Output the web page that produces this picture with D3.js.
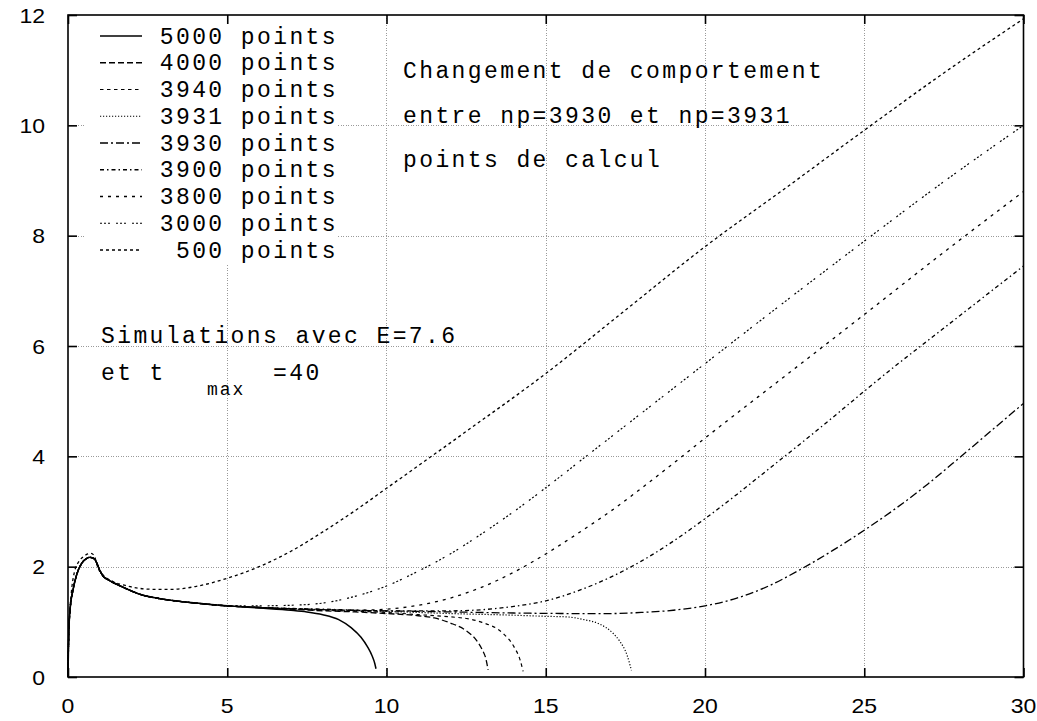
<!DOCTYPE html>
<html><head><meta charset="utf-8">
<script src="https://cdn.jsdelivr.net/npm/d3@7"></script>
<style>body{margin:0;background:#fff}svg{display:block}</style>
</head><body>
<svg id="c" width="1037" height="721"></svg>
<script>
// ---------- data ----------
const xTicks = [0, 5, 10, 15, 20, 25, 30];
const yTicks = [0, 2, 4, 6, 8, 10, 12];
const seriesLabels = ["5000 points","4000 points","3940 points","3931 points","3930 points","3900 points","3800 points","3000 points"," 500 points"];

// shared start of the simulations (np >= 3000)
const startX = [0, 0.02, 0.06, 0.17, 0.27, 0.43, 0.59, 0.69, 0.83, 0.9, 1.0, 1.1, 1.27, 1.68, 2.31, 3, 4, 5];
const startY = [0, 0.7, 1.18, 1.61, 1.85, 2.06, 2.15, 2.17, 2.14, 2.07, 1.93, 1.83, 1.76, 1.64, 1.49, 1.41, 1.34, 1.29];

const x5000 = [6, 7, 7.5, 8, 8.5, 8.9, 9.2, 9.4, 9.55, 9.63, 9.67];
const y5000 = [1.25, 1.21, 1.18, 1.13, 1.04, 0.89, 0.72, 0.55, 0.38, 0.25, 0.15];

const x4000 = [6, 7, 8, 9, 10, 11, 11.5, 12, 12.5, 12.82, 13.0, 13.12, 13.19];
const y4000 = [1.26, 1.23, 1.2, 1.18, 1.15, 1.11, 1.07, 0.98, 0.84, 0.67, 0.5, 0.33, 0.13];

const x3940 = [6, 8, 10, 11, 12, 12.51, 13, 13.66, 14.0, 14.2, 14.29];
const y3940 = [1.26, 1.21, 1.17, 1.13, 1.09, 1.06, 0.99, 0.79, 0.55, 0.3, 0.1];

const x3931 = [6, 8, 10, 12, 14, 15, 15.65, 16.2, 16.69, 17.1, 17.32, 17.55, 17.69];
const y3931 = [1.26, 1.22, 1.19, 1.15, 1.12, 1.1, 1.09, 1.04, 0.96, 0.8, 0.65, 0.4, 0.12];

const x3930 = [6, 8, 10, 12, 14, 16, 17, 18, 19, 20, 21, 22, 23, 24, 25, 26, 27, 28, 29, 30];
const y3930 = [1.26, 1.22, 1.2, 1.18, 1.16, 1.15, 1.15, 1.17, 1.21, 1.29, 1.43, 1.65, 1.95, 2.29, 2.66, 3.06, 3.5, 3.98, 4.47, 4.96];

const x3900 = [6, 8, 10, 12, 13, 14, 15, 16, 17, 18, 19, 20, 21, 22, 23, 24, 25, 26, 27, 28, 29, 30];
const y3900 = [1.26, 1.23, 1.2, 1.2, 1.22, 1.28, 1.38, 1.56, 1.8, 2.1, 2.46, 2.87, 3.31, 3.77, 4.23, 4.7, 5.18, 5.65, 6.1, 6.55, 7.0, 7.45];

const x3800 = [6, 7, 9, 10, 11, 12, 13, 14, 15, 16, 17, 18, 19, 20, 22.5, 25, 27.5, 30];
const y3800 = [1.26, 1.24, 1.21, 1.23, 1.3, 1.43, 1.63, 1.9, 2.23, 2.6, 2.99, 3.42, 3.87, 4.33, 5.45, 6.57, 7.7, 8.8];

const x3000 = [6, 7, 8, 9, 10, 11, 12, 13, 14, 15, 16, 17, 18, 20, 22.5, 25, 27.5, 30];
const y3000 = [1.29, 1.3, 1.34, 1.46, 1.65, 1.92, 2.23, 2.6, 3.0, 3.43, 3.88, 4.33, 4.78, 5.68, 6.8, 7.9, 8.98, 10.0];

const x500 = [0, 0.03, 0.1, 0.2, 0.35, 0.5, 0.62, 0.72, 0.82, 0.94, 1.1, 1.41, 1.8, 2.2, 2.7, 3.3, 4, 5, 6, 7, 8, 9, 10, 12.5, 15, 17.5, 20, 22.5, 25, 27.5, 30];
const y500 = [0, 0.9, 1.5, 1.9, 2.1, 2.19, 2.23, 2.24, 2.2, 1.98, 1.85, 1.73, 1.66, 1.61, 1.59, 1.59, 1.64, 1.79, 2.0, 2.28, 2.63, 3.01, 3.42, 4.45, 5.5, 6.65, 7.8, 8.85, 9.91, 10.95, 11.93];

const annotation1 = ["Changement de comportement", "entre np=3930 et np=3931", "points de calcul"];
const annotation2 = "Simulations avec E=7.6";

// ---------- layout ----------
const L = 68, R = 1023.5, T = 15, B = 677;
const svg = d3.select("#c");
const x = d3.scaleLinear().domain([0, 30]).range([L, R]);
const y = d3.scaleLinear().domain([0, 12]).range([B, T]);

const mono = "'Courier New','Nimbus Mono PS','FreeMono','Liberation Mono',monospace";
const sans = "'Liberation Sans',Arial,sans-serif";
const monoSize = 23, monoSpacing = 2.4;

// grid
const grid = svg.append("g").attr("stroke", "#9a9a9a").attr("stroke-width", 1).attr("stroke-dasharray", "1,1.5").attr("shape-rendering", "crispEdges");
xTicks.slice(1, -1).forEach(t => grid.append("line").attr("x1", Math.round(x(t)) + 0.5).attr("x2", Math.round(x(t)) + 0.5).attr("y1", T).attr("y2", B));
yTicks.slice(1, -1).forEach(t => grid.append("line").attr("y1", Math.round(y(t)) + 0.5).attr("y2", Math.round(y(t)) + 0.5).attr("x1", L).attr("x2", R));

// axes with inward ticks + mirrored (labels drawn separately)
const tickLen = 9;
const gx = svg.append("g").attr("transform", `translate(0,${B})`)
  .call(d3.axisBottom(x).tickValues(xTicks).tickSizeInner(-tickLen).tickSizeOuter(0).tickFormat(""));
const gxt = svg.append("g").attr("transform", `translate(0,${T})`)
  .call(d3.axisTop(x).tickValues(xTicks).tickSizeInner(-tickLen).tickSizeOuter(0).tickFormat(""));
const gy = svg.append("g").attr("transform", `translate(${L},0)`)
  .call(d3.axisLeft(y).tickValues(yTicks).tickSizeInner(-tickLen).tickSizeOuter(0).tickFormat(""));
const gyr = svg.append("g").attr("transform", `translate(${R},0)`)
  .call(d3.axisRight(y).tickValues(yTicks).tickSizeInner(-tickLen).tickSizeOuter(0).tickFormat(""));
[gx, gxt, gy, gyr].forEach(g => {
  g.select(".domain").remove();
  g.selectAll("line").attr("stroke", "#000").attr("stroke-width", 1.6);
});

// tick labels (slightly wide sans)
const labSize = 20, labStretch = 1.15;
svg.append("g").selectAll("text").data(xTicks).join("text")
  .attr("transform", d => `translate(${x(d)},713) scale(${labStretch},1)`)
  .attr("text-anchor", "middle").attr("font-family", sans).attr("font-size", labSize)
  .text(d => d);
svg.append("g").selectAll("text").data(yTicks).join("text")
  .attr("transform", d => `translate(45,${y(d) + 7.5}) scale(${labStretch},1)`)
  .attr("text-anchor", "end").attr("font-family", sans).attr("font-size", labSize)
  .text(d => d);

// frame
svg.append("rect").attr("x", L).attr("y", T).attr("width", R - L).attr("height", B - T)
  .attr("fill", "none").attr("stroke", "#000").attr("stroke-width", 1.6);

// series
const series = [
  {label: seriesLabels[0], xs: startX.concat(x5000), ys: startY.concat(y5000), dash: null, w: 1.5},
  {label: seriesLabels[1], xs: startX.concat(x4000), ys: startY.concat(y4000), dash: "6,3", w: 1.3},
  {label: seriesLabels[2], xs: startX.concat(x3940), ys: startY.concat(y3940), dash: "3.5,3.5", w: 1.2},
  {label: seriesLabels[3], xs: startX.concat(x3931), ys: startY.concat(y3931), dash: "1.2,1.8", w: 1.2},
  {label: seriesLabels[4], xs: startX.concat(x3930), ys: startY.concat(y3930), dash: "8,3,2,3", w: 1.3},
  {label: seriesLabels[5], xs: startX.concat(x3900), ys: startY.concat(y3900), dash: "4,3,1.5,3", w: 1.3},
  {label: seriesLabels[6], xs: startX.concat(x3800), ys: startY.concat(y3800), dash: "3,5", w: 1.3},
  {label: seriesLabels[7], xs: startX.concat(x3000), ys: startY.concat(y3000), dash: "2,2,2,2,2,6", w: 1.2},
  {label: seriesLabels[8], xs: x500, ys: y500, dash: "3,3", w: 1.3}
];
const line = d3.line().x(d => x(d[0])).y(d => y(d[1])).curve(d3.curveMonotoneX);
const plot = svg.append("g");
series.slice().reverse().forEach(s => {
  const pts = s.xs.map((v, i) => [v, s.ys[i]]);
  plot.append("path").datum(pts).attr("d", line).attr("fill", "none")
    .attr("stroke", "#000").attr("stroke-width", s.w)
    .attr("stroke-dasharray", s.dash);
});

// legend (opaque)
const lg = svg.append("g");
lg.append("rect").attr("x", 84).attr("y", 24).attr("width", 253).attr("height", 240).attr("fill", "#fff");
const rowY = i => 36 + i * 26.75;
series.forEach((s, i) => {
  lg.append("line").attr("x1", 100).attr("x2", 142).attr("y1", rowY(i)).attr("y2", rowY(i))
    .attr("stroke", "#000").attr("stroke-width", s.w).attr("stroke-dasharray", s.dash);
  lg.append("text").attr("x", 338).attr("y", rowY(i) + 7.5).attr("text-anchor", "end")
    .attr("font-family", mono).attr("font-size", monoSize).attr("letter-spacing", monoSpacing)
    .style("white-space", "pre").text(s.label);
});

// annotations
annotation1.forEach((t, i) => {
  svg.append("text").attr("x", 403).attr("y", 78 + i * 44.5)
    .attr("font-family", mono).attr("font-size", monoSize).attr("letter-spacing", monoSpacing).text(t);
});
svg.append("text").attr("x", 101).attr("y", 343).attr("font-family", mono)
  .attr("font-size", monoSize).attr("letter-spacing", monoSpacing).text(annotation2);
const t2 = svg.append("text").attr("font-family", mono).attr("font-size", monoSize).attr("letter-spacing", monoSpacing);
t2.append("tspan").attr("x", 101).attr("y", 380).text("et t");
t2.append("tspan").attr("x", 207).attr("y", 395).attr("font-size", 18).attr("letter-spacing", 2).text("max");
t2.append("tspan").attr("x", 273).attr("y", 380).text("=40");
</script>
</body></html>
